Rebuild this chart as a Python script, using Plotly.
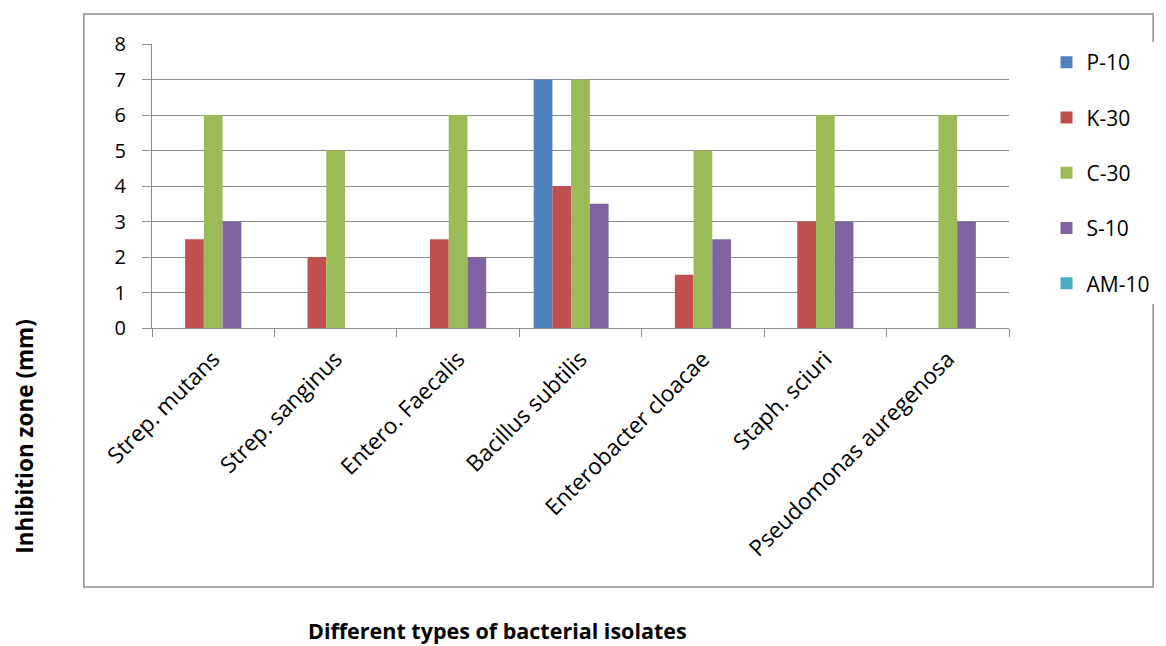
import plotly.graph_objects as go

isolates = ["Strep. mutans", "Strep. sanginus", "Entero. Faecalis", "Bacillus subtilis",
            "Enterobacter cloacae", "Staph. sciuri", "Pseudomonas auregenosa"]
p10 = [0, 0, 0, 7, 0, 0, 0]
k30 = [2.5, 2, 2.5, 4, 1.5, 3, 0]
c30 = [6, 5, 6, 7, 5, 6, 6]
s10 = [3, 0, 2, 3.5, 2.5, 3, 3]
am10 = [0, 0, 0, 0, 0, 0, 0]

series = [("P-10", p10, "#4F81BD"), ("K-30", k30, "#C0504D"), ("C-30", c30, "#9BBB59"),
          ("S-10", s10, "#8064A2"), ("AM-10", am10, "#4BACC6")]

W, H = 1166, 646
L, R, T, B = 152, 1020, 44, 328  # plot area in pixels


def px(x):
    return (x - L) / (R - L)


def py(y):
    return (B - y) / (B - T)


fig = go.Figure()
for name, vals, col in series:
    fig.add_trace(go.Bar(x=isolates, y=vals, name=name, marker_color=col,
                         marker_line_width=0, legendgroup=name))

font = "Open Sans, sans-serif"
fig.update_layout(
    width=W, height=H,
    margin=dict(l=L, r=W - R, t=T, b=H - B),
    paper_bgcolor="white", plot_bgcolor="white",
    barmode="group", bargap=0.235, bargroupgap=0,
    font=dict(family=font, size=20, color="black"),
    legend=dict(x=px(1058), y=py(42), xanchor="left", yanchor="top",
                font=dict(size=21), tracegroupgap=25, itemwidth=30),
    xaxis=dict(type="category", tickangle=-45, showline=True, linecolor="#8c8c8c",
               linewidth=1, ticks="outside", tickson="boundaries", ticklen=8,
               tickcolor="#8c8c8c", tickfont=dict(size=22.5), showgrid=False,
               ticklabelstandoff=8),
    yaxis=dict(range=[0, 8], dtick=1, showline=True, linecolor="#8c8c8c", linewidth=1,
               ticks="outside", ticklen=9, tickcolor="#8c8c8c", gridcolor="#8c8c8c",
               gridwidth=1, tickfont=dict(size=20), zeroline=False,
               ticklabelstandoff=12),
    shapes=[dict(type="rect", xref="paper", yref="paper",
                 x0=px(83), x1=px(1166), y0=py(587), y1=py(14),
                 line=dict(color="#8c8c8c", width=1.5), layer="below")],
    annotations=[
        dict(text="<b>Inhibition zone (mm)</b>", xref="paper", yref="paper",
             x=px(22), y=py(437), textangle=-90, showarrow=False,
             font=dict(size=22.5), xanchor="center", yanchor="middle"),
        dict(text="<b>Different types of bacterial isolates</b>", xref="paper", yref="paper",
             x=px(502), y=py(630), showarrow=False, font=dict(size=21.5),
             xanchor="center", yanchor="middle"),
    ],
)

fig.write_html("out.html")
